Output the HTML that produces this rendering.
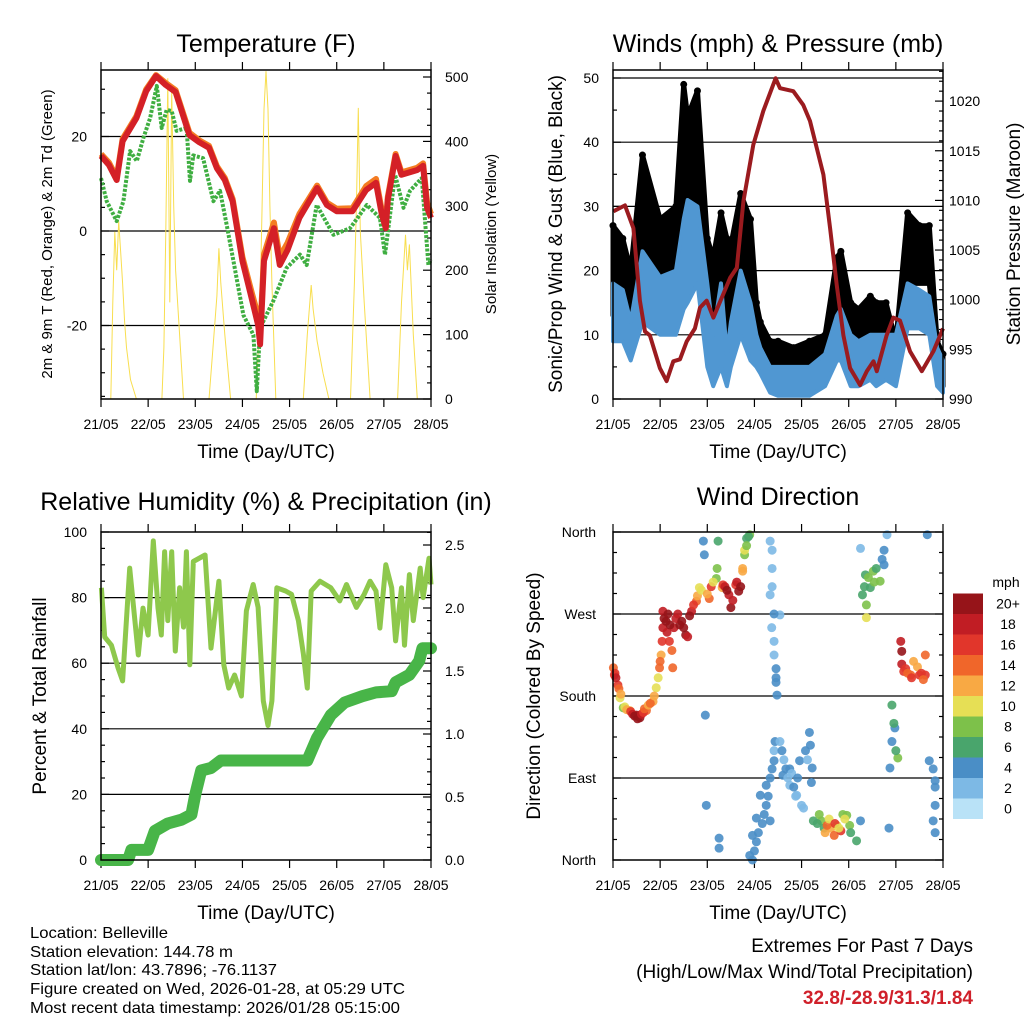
<!DOCTYPE html>
<html><head><meta charset="utf-8">
<style>
html,body{margin:0;padding:0;background:#fff;}
svg{display:block;font-family:"Liberation Sans",sans-serif;}
</style></head>
<body>
<svg id="fig" width="1024" height="1024" viewBox="0 0 1024 1024" xmlns="http://www.w3.org/2000/svg">
<rect width="1024" height="1024" fill="#fff"/>
<g id="p1"></g>
<g id="p2"></g>
<g id="p3"></g>
<g id="p4"></g>
<g id="footer" font-size="16" fill="#000">
<text x="30" y="938" textLength="138" lengthAdjust="spacingAndGlyphs">Location: Belleville</text>
<text x="30" y="957" textLength="203" lengthAdjust="spacingAndGlyphs">Station elevation: 144.78 m</text>
<text x="30" y="975" textLength="247" lengthAdjust="spacingAndGlyphs">Station lat/lon: 43.7896; -76.1137</text>
<text x="30" y="994" textLength="375" lengthAdjust="spacingAndGlyphs">Figure created on Wed, 2026-01-28, at 05:29 UTC</text>
<text x="30" y="1013" textLength="370" lengthAdjust="spacingAndGlyphs">Most recent data timestamp: 2026/01/28 05:15:00</text>
<text x="973" y="952" text-anchor="end" font-size="19">Extremes For Past 7 Days</text>
<text x="973" y="978" text-anchor="end" font-size="19">(High/Low/Max Wind/Total Precipitation)</text>
<text x="973" y="1004" text-anchor="end" font-size="19" font-weight="bold" fill="#d0202a">32.8/-28.9/31.3/1.84</text>
</g>
</svg>
<script>
// ---------- data ----------
const dayLabels = ["21/05","22/05","23/05","24/05","25/05","26/05","27/05","28/05"];
// Temperature (F)
const redT = [0,4,8,11,18,23,28,33,38,45,50,55,59,63,67,72,77,80,81,83,88,91,95,101,110,115,120,128,135,140,143,145,146,150,153,161,164,166,168];
const redV = [15.9,14,10.8,19,23.9,29.6,32.8,30.9,29.4,20.3,18.8,17.6,13.3,10.8,6.3,-6.3,-14.8,-19.9,-24,-6.3,0.6,-7.2,-4,2.8,9.1,5.5,4.2,4.2,8.7,10.2,3.4,0.6,6.6,15.9,11.9,12.9,13.8,4.9,2.8];
const orangeV = [16.3,14.5,11.3,19.5,24.3,30,33,31.3,29.8,20.8,19.2,18,13.7,11.2,6.8,-5.5,-13.5,-18,-22,-5,1.8,-5.5,-2.5,3.6,9.6,6,4.7,4.8,9.5,11,4.2,1.5,7.2,16.3,12.4,13.4,14.3,6,3.6];
const greenT = [0,2.9,8,11.4,14.8,18.2,21.6,25,28.4,30.9,33.4,36,38.5,43.6,45.3,47,52,57.2,60.6,64,67.4,72.5,77.6,79.3,81,87.7,94.5,101.3,104.7,109.8,118.3,126.8,135.3,142,144.6,149.7,154,157.3,163.3,166.7,168];
const greenV = [11.2,6.3,2.1,6.3,16.9,14.8,19.7,23.9,30.7,21.8,25.6,25.4,21.2,21.8,10.6,16,15.4,6.3,8.5,1.3,-6.3,-17.8,-22,-33.9,-20.5,-14.8,-7.8,-5,-7.2,5.5,-0.8,0.6,5.5,2.8,-5,11.9,4.9,8.5,11.2,-7.2,-6];
const sunT = [0,5,6,7,8,9,10,11,12,13,15,18,31,32,33,34,35,36,37,38,40,42,55,57,59,60,61,63,66,79,81,82,83,84,85,86,87,89,103,105,107,108,110,113,116,127,129,130,131,132,134,137,151,153,155,156,157,159,161,168];
const sunV = [0,0,150,260,200,276,230,180,120,80,30,0,0,80,260,498,150,480,300,200,100,0,0,80,160,234,180,100,0,0,150,300,450,509,450,300,180,0,0,100,177,140,90,40,0,0,180,300,452,260,150,0,0,150,255,200,240,100,0,0];
// Winds (mph) & pressure (mb)
const windT  = [0,5,9,15,24,32,36,38,43,48,51,55,58,60,65,70,73,75,80,84,92,100,108,114,116,121,125,131,134,139,144,150,156,161,165,168];
const blueLo = [9,9,6,12,10,10,14,15,18,5,2,5,2,5,10,6,5,4,1,0.5,0.5,0.5,2,6,6,2,2,3,2,3,2,11,11,10,2,1];
const blueHi = [18,17,12,23,19,20,28,31,30,18,10,18,7,12,20,15,10,8,5,5,5,5,7,13,14,10,9,10,10,10,10,18,17,16,8,6];
const gustLo = [13,12,12,18,15,16,25,26,24,13,10,15,10,13,18,15,8,7,5,5,5,5.5,6,10,10,7,6,7,7,7,6,18,18,18,6,2];
const gustHi = [27,25,20,38,28,30,49,44,48,25,22,29,25,24,32,28,15,12,9,9,8,9,10,22,23,15,14,16,15,15,9,29,27,27,9,7];
const presT = [0.2,6.1,10.4,13.7,16.3,18.8,23.9,27.3,30.7,34.1,37.5,41.7,44.3,47.7,51.1,59.6,63,66.4,71.4,76.5,82.8,85,91.8,96.9,100.3,103.7,107.1,110.5,113.9,117.3,120.7,125.8,129.2,132.6,134.3,139.3,142.7,146.1,151.2,157.2,163.1,168];
const presV = [1008.9,1009.5,1007.2,999.9,996.8,996.4,993.1,991.8,993.8,994,995.8,997.1,999.2,999.9,998.2,1002.2,1003.2,1009.9,1015.6,1019,1022.3,1021.3,1021,1019.6,1018,1015.3,1012.6,1007.2,1001.5,996.4,993.1,991.4,992.8,993.8,992.8,996.4,998.2,997.9,994.8,992.8,994.8,997.1];
// Relative humidity & rain
const rhT = [0.2,1.9,5.3,8.7,11,14.6,19,21.4,24,26.6,29,30.7,32.4,34,36,37.8,40,42,43.5,45.2,47,53,56,60,62.5,65,68,71.5,74,77.5,80,82.6,85,87,89.5,94,97,100.5,103,105,107,111.5,117,121.5,125,130,134,137,140,142,145,148,150,153,154.5,157,159,162.5,164,167,168];
const rhV = [83,68,65.5,58.5,54.6,89,62.5,76.8,68.6,97.3,76.8,68.6,94,73,94,63.7,83,71,94,59.5,91,93,64.6,85,59.5,52.4,56.4,50,76,84,77,48.5,41,48.5,83,82,81,73,63,52.4,82,85,83,79,84,77,81,85,82,70.7,90,83,66.8,83,65.5,87,73,89,80,92,84];
const rainT = [0,13.8,15.5,24,27.4,34,41,46,48,51,56,61,105,110,117,124,133,140,148,150,157,162,163.6,168];
const rainV = [0,0,0.08,0.08,0.23,0.29,0.32,0.36,0.52,0.71,0.73,0.79,0.79,0.97,1.15,1.25,1.3,1.33,1.34,1.41,1.47,1.58,1.68,1.68];
// Wind direction (deg) colored by speed (mph)
const dirT = [0.2,0.7,2.5,3.6,5.2,8.6,12,13.7,17,20.4,22,23.7,24.5,25.4,25.4,27,28.7,30.4,31,34,37,40,42.5,44,46,46.5,47,47.5,49,52.6,53.5,54,54,55.6,59,60,62.5,64,66,67,68,69.6,69.6,71,73,75,78,80,80,80.8,83,83.5,82,80,85,86.5,90,93.5,95,97,100.5,101.4,102,106,107.5,111,112.6,114,116,119,120.5,124,126,126,127,128.5,129,129,131,132.5,136,138,139.5,140.5,141,142,143.5,145,146.5,147,148,151.6,153,156,159,159,160,161,163,164,
1,1.5,3,4,6,7,9,10,11,12.5,14.5,15.5,16,18,19,21,23,24,25,26,27.5,28,29,30,32,33,35,36,38,39,41,43,45,48,50,51,53,56,57,58,61,63,65,66,67,68,69,
81,81,81,82,82,82,83,83,82.5,82,81,80,79,78,77,76,74,73,72,71,
85,86,87,88,89,90,91,92,93,94,96,98,99,100,101,
104,105,108,109,110,113,115,117,118,121,128,130,133,134,137,138,147,149,150,152,155,157,158,142,143,144,163,164,164,164];
const dirV = [211,203,192,178,167,164,159,156,164,174,189,211,225,255,273,262,240,211,255,258,247,273,284,299,350,335,159,60,287,309,350,13,24,299,291,277,302,295,317,335,353,357,5,27,46,71,82,350,291,255,200,181,109,43,269,93,82,71,109,57,126,101,43,43,35,35,27,38,32,49,38,21,43,342,291,313,280,266,299,317,306,324,357,35,101,170,145,112,240,229,207,203,218,203,203,225,357,109,43,87,
205,200,188,182,168,165,163,160,158,155,160,162,166,170,172,180,200,218,240,265,250,270,258,230,265,270,262,255,245,268,280,290,296,292,300,305,320,302,300,296,285,305,300,320,340,345,355,
340,320,300,270,240,225,210,195,130,120,100,90,70,60,50,40,30,20,10,0,
130,120,110,100,90,100,95,80,70,90,60,120,110,140,85,
40,50,30,38,45,40,35,50,45,30,300,310,305,320,330,340,215,210,205,200,212,205,198,130,150,120,100,80,60,30];
const dirS = [14,16,16,10,8,12,19,20,14,12,10,13,12,18,18,20,16,14,18,20,20,18,14,10,4,3,3,3,14,8,6,4,4,12,18,20,16,19,12,8,6,7,4,4,4,4,3,2,2,2,3,4,4,4,2,3,2,2,4,2,4,4,6,8,6,12,14,10,16,8,8,6,4,2,6,5,8,9,6,7,8,4,2,3,4,6,4,7,18,19,15,14,12,16,16,14,4,4,4,3,
16,18,14,12,10,12,16,18,20,20,18,16,14,12,14,12,10,13,16,20,18,20,20,14,18,18,20,20,18,20,16,12,10,12,16,10,8,16,18,20,18,18,20,12,10,8,6,
2,2,2,3,2,2,3,4,3,2,4,4,4,4,4,4,4,4,4,4,
2,3,2,4,2,4,2,3,2,4,2,4,2,4,4,
6,8,12,14,10,16,10,8,10,6,6,8,8,6,4,4,18,16,14,15,12,16,14,4,6,5,4,3,4,4];
const speedLabels = ["0","2","4","6","8","10","12","14","16","18","20+"];
const speedColors = ["#b9e2f7","#7db9e5","#4a8ec6","#49a56c","#7dc14a","#e6df55","#f8a944","#f0662a","#e1362b","#c11d24","#961419"];

// ---------- helpers ----------
const NS="http://www.w3.org/2000/svg";
function mk(parent,tag,attrs,txt){const e=document.createElementNS(NS,tag);for(const k in attrs)e.setAttribute(k,attrs[k]);if(txt!==undefined)e.textContent=txt;parent.appendChild(e);return e;}
function pathD(xs,ys){return xs.map((x,i)=>(i?"L":"M")+x.toFixed(1)+","+ys[i].toFixed(1)).join("");}
const DAYH=168;
function frame(g,L,T,W,H){
  const xs=t=>L+t/DAYH*W;
  dayLabels.forEach((d,i)=>{
    const x=xs(i*24);
    const tk=mk(g,"line",{x1:x,y1:T+H,x2:x,y2:T+H+8,stroke:"#000","stroke-width":1.2});
    
    
    const tt=mk(g,"line",{x1:x,y1:T,x2:x,y2:T-8,stroke:"#000","stroke-width":1.2});
    
    
    const lb=mk(g,"text",{x:x,y:T+H+30,"text-anchor":"middle","font-size":14},d);
    
    
  });
  const xt=mk(g,"text",{x:L+W/2,y:T+H+59,"text-anchor":"middle","font-size":19},"Time (Day/UTC)");
  
  
  return xs;
}
function box(g,L,T,W,H){
  const b=mk(g,"rect",{x:L,y:T,width:W,height:H,fill:"none",stroke:"#000","stroke-width":1.5});
  
  
}
function grid(g,L,W,y){
  const l=mk(g,"line",{x1:L,y1:y,x2:L+W,y2:y,stroke:"#000","stroke-width":1.2});
  
  
}
function yTick(g,x,y,dir,len,label,anchor,lx){
  const t=mk(g,"line",{x1:x,y1:y,x2:x+dir*len,y2:y,stroke:"#000","stroke-width":1.2});
  
  
  if(label!==null && label!==undefined){
    const tx=mk(g,"text",{x:lx,y:y+5,"text-anchor":anchor,"font-size":14},label);
    
    
  }
}
function title(g,x,y,s){
  const t=mk(g,"text",{x:x,y:y,"text-anchor":"middle","font-size":25},s);
  
  
}
function vlabel(g,x,y,s,size,name){
  const t=mk(g,"text",{x:0,y:0,"text-anchor":"middle","font-size":size,transform:`translate(${x},${y}) rotate(-90)`},s);
  
  
}

// ---------- Panel 1: temperature ----------
(function(){
  const g=document.getElementById('p1');const L=101,T=70,W=330,H=329;
  const xs=frame(g,L,T,W,H);
  const yT=v=>231-v*4.725; const yS=v=>399-v*0.644;
  [20,0,-20].forEach(v=>grid(g,L,W,yT(v)));
  for(let v=-35;v<=30;v+=5){const maj=v%20===0;yTick(g,L,yT(v),1,maj?8:4,maj?String(v):null,"end",L-14);}
  for(let v=0;v<=500;v+=25){const maj=v%100===0;yTick(g,L+W,yS(v),-1,maj?8:4,maj?String(v):null,"start",L+W+14);}
  const sun=mk(g,"path",{d:pathD(sunT.map(xs),sunV.map(yS)),fill:"none",stroke:"#f8de4f","stroke-width":1});
  
  
  const gr=mk(g,"path",{d:pathD(greenT.map(xs),greenV.map(yT)),fill:"none",stroke:"#3fae41","stroke-width":4,"stroke-dasharray":"3 1.5","stroke-linejoin":"round"});
  
  
  const or=mk(g,"path",{d:pathD(redT.map(xs),orangeV.map(yT)),fill:"none",stroke:"#f47c22","stroke-width":6,"stroke-linejoin":"round"});
  
  
  const rd=mk(g,"path",{d:pathD(redT.map(xs),redV.map(yT)),fill:"none",stroke:"#d42027","stroke-width":6,"stroke-linejoin":"round"});
  
  
  box(g,L,T,W,H);
  title(g,266,52,"Temperature (F)");
  vlabel(g,52,234,"2m & 9m T (Red, Orange) & 2m Td (Green)",15,"y-axis-title-left");
  vlabel(g,496,234,"Solar Insolation (Yellow)",15,"y-axis-title-right");
})();

// ---------- Panel 2: winds & pressure ----------
(function(){
  const g=document.getElementById('p2');const L=613,T=70,W=330,H=329;
  const xs=frame(g,L,T,W,H);
  const yW=v=>399-v*6.42; const yP=v=>399-(v-990)*9.93;
  [10,20,30,40,50].forEach(v=>grid(g,L,W,yW(v)));
  for(let v=0;v<=50;v+=5){const maj=v%10===0;yTick(g,L,yW(v),1,maj?8:4,maj?String(v):null,"end",L-14);}
  for(let v=990;v<=1023;v+=1){const maj=v%5===0;yTick(g,L+W,yP(v),-1,maj?8:4,maj?String(v):null,"start",L+W+6);}
  const X=windT.map(xs);
  const gb=mk(g,"path",{d:pathD(X,gustHi.map(yW))+pathD(X.slice().reverse(),gustLo.map(yW).reverse()).replace("M","L")+"Z",fill:"#000",stroke:"#000","stroke-width":5,"stroke-linejoin":"round"});
  
  
  windT.forEach((t,i)=>{
    const c=mk(g,"circle",{cx:xs(t),cy:yW(gustHi[i]),r:3.5,fill:"#000"});
    
    
  });
  const bb=mk(g,"path",{d:pathD(X,blueHi.map(yW))+pathD(X.slice().reverse(),blueLo.map(yW).reverse()).replace("M","L")+"Z",fill:"#5097d2",stroke:"#5097d2","stroke-width":4,"stroke-linejoin":"round"});
  
  
  const pr=mk(g,"path",{d:pathD(presT.map(xs),presV.map(yP)),fill:"none",stroke:"#9b1b1f","stroke-width":4,"stroke-linejoin":"round"});
  
  
  box(g,L,T,W,H);
  title(g,778,52,"Winds (mph) & Pressure (mb)");
  vlabel(g,562,234,"Sonic/Prop Wind & Gust (Blue, Black)",19,"y-axis-title-left");
  vlabel(g,1020,234,"Station Pressure (Maroon)",19,"y-axis-title-right");
})();

// ---------- Panel 3: humidity & precip ----------
(function(){
  const g=document.getElementById('p3');const L=101,T=532,W=330,H=328;
  const xs=frame(g,L,T,W,H);
  const yR=v=>860-v*3.28; const yP=v=>860-v*126;
  [20,40,60,80].forEach(v=>grid(g,L,W,yR(v)));
  for(let v=0;v<=100;v+=5){const maj=v%20===0;yTick(g,L,yR(v),1,maj?8:4,maj?String(v):null,"end",L-14);}
  for(let r=0;r<=26;r++){const maj=r%5===0;yTick(g,L+W,yP(r/10),-1,maj?8:4,maj?(r/10).toFixed(1):null,"start",L+W+14);}
  const rh=mk(g,"path",{d:pathD(rhT.map(xs),rhV.map(yR)),fill:"none",stroke:"#8ec84c","stroke-width":5,"stroke-linejoin":"round"});
  
  
  const rn=mk(g,"path",{d:pathD(rainT.map(xs),rainV.map(yP)),fill:"none",stroke:"#48b548","stroke-width":12,"stroke-linejoin":"round","stroke-linecap":"round"});
  
  
  box(g,L,T,W,H);
  title(g,266,510,"Relative Humidity (%) & Precipitation (in)");
  vlabel(g,46,696,"Percent & Total Rainfall",19,"y-axis-title-left");
})();

// ---------- Panel 4: wind direction ----------
(function(){
  const g=document.getElementById('p4');const L=613,T=532,W=330,H=328;
  const xs=frame(g,L,T,W,H);
  const yD=v=>860-v/360*328;
  [90,180,270].forEach(v=>grid(g,L,W,yD(v)));
  const names=["North","East","South","West","North"];
  for(let v=0;v<=360;v+=22.5){const maj=v%90===0;yTick(g,L,yD(v),1,maj?8:4,maj?names[v/90]:null,"end",L-17);yTick(g,L+W,yD(v),-1,maj?8:4,null);}
  const colorFor=s=>speedColors[Math.min(10,Math.max(0,Math.round(s/2)))];
  dirT.forEach((t,i)=>{
    const c=mk(g,"circle",{cx:xs(t),cy:yD(dirV[i]),r:4.5,fill:colorFor(dirS[i]),"fill-opacity":0.9});
    
    
  });
  box(g,L,T,W,H);
  title(g,778,505,"Wind Direction");
  vlabel(g,540,696,"Direction (Colored By Speed)",19,"y-axis-title-left");
  const lg=mk(g,"g",{});
  
  
  const lt=mk(lg,"text",{x:1006,y:587,"text-anchor":"middle","font-size":14},"mph");
  
  
  speedLabels.forEach((s,i)=>{
    const y=798.5-i*20.5;
    const r=mk(lg,"rect",{x:953,y:y,width:30,height:20.5,fill:speedColors[i]});
    
    
    const tx=mk(lg,"text",{x:1008,y:y+15,"text-anchor":"middle","font-size":14},s);
    
    
  });
})();
</script>
</body></html>
